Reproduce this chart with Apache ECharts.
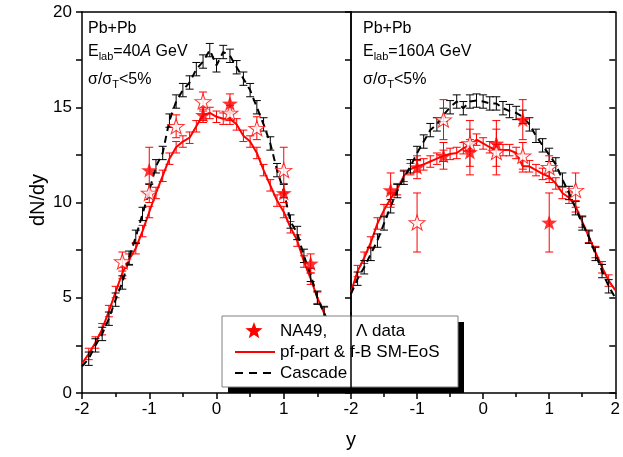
<!DOCTYPE html>
<html><head><meta charset="utf-8">
<script src="https://cdn.jsdelivr.net/npm/echarts@6/dist/echarts.min.js"></script>
<style>html,body{margin:0;padding:0;background:#fff}#c{width:623px;height:457px}</style>
</head><body><div id="c"></div>
<script>
// rapidity grid of the model calculations
const rap = [-2.0,-1.9,-1.8,-1.7,-1.6,-1.5,-1.4,-1.3,-1.2,-1.1,-1.0,-0.9,-0.8,-0.7,-0.6,-0.5,-0.4,-0.3,-0.2,-0.1,0.0,0.1,0.2,0.3,0.4,0.5,0.6,0.7,0.8,0.9,1.0,1.1,1.2,1.3,1.4,1.5,1.6,1.7,1.8,1.9,2.0];
// 40A GeV
const pf40   = [1.55,2.05,2.65,3.35,4.3,5.3,6.3,7.0,7.6,8.5,9.5,10.5,11.4,12.3,12.9,13.2,13.4,14.0,14.6,14.7,14.5,14.4,14.4,14.1,13.5,13.2,12.6,11.7,10.9,10.1,9.5,8.7,8.0,6.9,6.0,5.0,4.2,3.4,2.6,2.0,1.5];
const casc40 = [1.4,1.8,2.5,3.1,3.9,4.9,5.8,7.1,8.2,9.4,10.6,11.9,12.6,14.3,15.3,15.9,16.3,17.0,17.4,18.0,17.2,17.9,17.7,17.1,16.5,15.9,15.0,14.1,13.1,11.7,10.6,9.0,8.4,7.2,6.2,5.0,4.2,3.4,2.6,1.9,1.5];
// 160A GeV
const pf160   = [5.3,6.4,7.1,7.9,8.9,9.6,10.2,10.7,11.4,11.75,11.9,12.0,12.15,12.3,12.45,12.55,12.6,12.85,13.0,13.3,13.1,12.9,12.75,12.75,12.75,12.6,11.9,11.9,11.7,11.5,11.35,11.0,10.5,10.25,9.8,9.0,8.2,7.4,6.6,5.9,5.4];
const casc160 = [5.2,6.0,6.6,7.3,8.0,8.9,9.8,10.6,11.3,11.9,12.6,13.2,13.8,14.1,14.6,15.0,15.3,14.95,15.3,15.35,15.3,15.2,15.2,14.95,14.8,14.7,14.5,14.1,13.5,13.0,12.5,12.0,11.2,10.5,9.7,8.9,8.2,7.3,6.4,5.6,5.0];
const pfErr = 0.3, cascErr = 0.35;
// NA49 Lambda data (filled = measured, open = reflected)
const na40FilledX = [-1.0,-0.2,0.2,1.0,1.4];
const na40FilledY = [11.7,14.6,15.2,10.5,6.8];
const na40FilledE = [1.2,0.4,0.5,0.5,0.5];
const na40OpenX = [-1.4,-1.0,-0.6,-0.2,0.2,0.6,1.0];
const na40OpenY = [6.9,10.5,14.0,15.3,14.7,13.9,11.7];
const na40OpenE = [0.5,0.5,0.6,0.5,0.4,0.6,1.2];
const na160FilledX = [-1.4,-1.0,-0.6,-0.2,0.2,0.6,1.0];
const na160FilledY = [10.65,11.85,12.45,12.65,13.1,14.35,8.95];
const na160FilledE = [0.9,0.6,0.7,1.2,1.2,1.05,1.55];
const na160OpenX = [-1.0,-0.6,-0.2,0.2,0.6,1.0,1.4];
const na160OpenY = [8.95,14.35,13.1,12.65,12.45,11.85,10.65];
const na160OpenE = [1.55,1.05,1.2,1.2,0.7,0.6,0.9];
const xTicks = [-2,-1,0,1,2];
const yTicks = [0,5,10,15,20];

const FONT = 'Liberation Sans, Arial, sans-serif';
const RED = '#ff0000';
const STAR = 'path://M0,-10 L2.35,-3.24 L9.51,-3.09 L3.8,1.24 L5.88,8.09 L0,4 L-5.88,8.09 L-3.8,1.24 L-9.51,-3.09 L-2.35,-3.24 Z';

const zip = (xs, ys) => xs.map((x, i) => [x, ys[i]]);
const errData = (xs, ys, es) => xs.map((x, i) => {
  const e = Array.isArray(es) ? es[i] : es;
  return [x, ys[i] - e, ys[i] + e];
});
function errRender(cap, color) {
  return function (params, api) {
    const x = api.value(0);
    const p1 = api.coord([x, api.value(2)]);
    const p2 = api.coord([x, api.value(1)]);
    const st = {stroke: color, lineWidth: 1};
    return {type: 'group', children: [
      {type: 'line', shape: {x1: p1[0], y1: p1[1], x2: p2[0], y2: p2[1]}, style: st},
      {type: 'line', shape: {x1: p1[0] - cap, y1: p1[1], x2: p1[0] + cap, y2: p1[1]}, style: st},
      {type: 'line', shape: {x1: p2[0] - cap, y1: p2[1], x2: p2[0] + cap, y2: p2[1]}, style: st}
    ]};
  };
}
const inner = rap.slice(1, -1);
const innerOf = arr => arr.slice(1, -1);

function panelSeries(g, pf, casc, fX, fY, fE, oX, oY, oE) {
  const ax = {xAxisIndex: g * 2, yAxisIndex: g * 2};
  return [
    Object.assign({type: 'line', data: zip(rap, pf), showSymbol: false, lineStyle: {color: RED, width: 2}, z: 3, silent: true}, ax),
    Object.assign({type: 'custom', renderItem: errRender(4, RED), data: errData(inner, innerOf(pf), pfErr), z: 3, silent: true, encode: {x: 0, y: [1, 2]}}, ax),
    Object.assign({type: 'line', data: zip(rap, casc), showSymbol: false, lineStyle: {color: '#000', width: 2, type: [7, 5]}, z: 4, silent: true}, ax),
    Object.assign({type: 'custom', renderItem: errRender(4, '#000'), data: errData(inner, innerOf(casc), cascErr), z: 4, silent: true, encode: {x: 0, y: [1, 2]}}, ax),
    Object.assign({type: 'custom', renderItem: errRender(4, RED), data: errData(oX, oY, oE), z: 5, silent: true, encode: {x: 0, y: [1, 2]}}, ax),
    Object.assign({type: 'custom', renderItem: errRender(4, RED), data: errData(fX, fY, fE), z: 5, silent: true, encode: {x: 0, y: [1, 2]}}, ax),
    Object.assign({type: 'scatter', data: zip(oX, oY), symbol: STAR, symbolSize: [16, 15], itemStyle: {color: '#fff', borderColor: RED, borderWidth: 1}, z: 6, silent: true}, ax),
    Object.assign({type: 'scatter', data: zip(fX, fY), symbol: STAR, symbolSize: [16, 15], itemStyle: {color: RED}, z: 7, silent: true}, ax)
  ];
}

function xAxes(g, hideLast) {
  return [
    {gridIndex: g, type: 'value', min: -2, max: 2, interval: 1, position: 'bottom',
     axisLine: {show: true, onZero: false, lineStyle: {color: '#000', width: 1.5}},
     axisTick: {show: true, length: 6, lineStyle: {color: '#000', width: 1.5}},
     minorTick: {show: true, splitNumber: 2, length: 4, lineStyle: {color: '#000', width: 1.5}},
     splitLine: {show: false},
     axisLabel: {show: true, margin: 8, color: '#000', fontSize: 17, fontFamily: FONT,
       formatter: v => (hideLast && v === 2) ? '' : (xTicks.includes(v) ? String(v) : '')}},
    {gridIndex: g, type: 'value', min: -2, max: 2, interval: 1, position: 'top',
     axisLine: {show: true, onZero: false, lineStyle: {color: '#000', width: 1.5}},
     axisTick: {show: false}, axisLabel: {show: false}, splitLine: {show: false}}
  ];
}
function yAxes(g, labels) {
  return [
    {gridIndex: g, type: 'value', min: 0, max: 20, interval: 2.5, position: 'left',
     axisLine: {show: true, onZero: false, lineStyle: {color: '#000', width: 1.5}},
     axisTick: {show: true, length: 6, inside: false, lineStyle: {color: '#000', width: 1.5}},
     splitLine: {show: false},
     axisLabel: {show: labels, margin: 10, color: '#000', fontSize: 17, fontFamily: FONT,
       formatter: v => yTicks.includes(v) ? String(v) : ''}},
    {gridIndex: g, type: 'value', min: 0, max: 20, interval: 2.5, position: 'right',
     axisLine: {show: true, onZero: false, lineStyle: {color: '#000', width: 1.5}},
     axisTick: {show: true, length: 6, inside: true, lineStyle: {color: '#000', width: 1.5}},
     axisLabel: {show: false}, splitLine: {show: false}}
  ];
}

function starPoints(cx, cy, R, r) {
  const pts = [];
  for (let i = 0; i < 10; i++) {
    const a = -Math.PI / 2 + i * Math.PI / 5;
    const rad = i % 2 === 0 ? R : r;
    pts.push([cx + rad * Math.cos(a), cy + rad * Math.sin(a)]);
  }
  return pts;
}

const txt = (x, y, text, extra) => ({type: 'text', x, y, z: 50,
  style: Object.assign({text, fill: '#000', font: '16px ' + FONT, textVerticalAlign: 'middle'}, extra || {})});

const richStyle = {
  s: {fontSize: 11, fontFamily: FONT, verticalAlign: 'bottom', padding: [10, 0, 0, 0]},
  i: {fontSize: 16, fontFamily: FONT, fontStyle: 'italic'},
  n: {fontSize: 16, fontFamily: FONT}
};
function annot(x, energy) {
  return [
    {type: 'text', x, y: 29, z: 50, style: {text: 'Pb+Pb', fill: '#000', font: '16px ' + FONT, verticalAlign: 'middle'}},
    {type: 'text', x, y: 52, z: 50, style: {text: '{n|E}{s|lab}{n|=' + energy + '}{i|A}{n| GeV}', rich: richStyle, fill: '#000', fontSize: 16, fontFamily: FONT, verticalAlign: 'middle'}},
    {type: 'text', x, y: 80, z: 50, style: {text: '{n|σ/σ}{s|T}{n|<5%}', rich: richStyle, fill: '#000', fontSize: 16, fontFamily: FONT, verticalAlign: 'middle'}}
  ];
}

const chart = echarts.init(document.getElementById('c'), null, {renderer: 'canvas'});
chart.setOption({
  animation: false,
  backgroundColor: '#fff',
  grid: [
    {left: 82, top: 12, width: 269, height: 381},
    {left: 351, top: 12, width: 269, height: 381}
  ],
  xAxis: xAxes(0, true).concat(xAxes(1, false)),
  yAxis: yAxes(0, true).concat(yAxes(1, false)),
  series: panelSeries(0, pf40, casc40, na40FilledX, na40FilledY, na40FilledE, na40OpenX, na40OpenY, na40OpenE)
    .concat(panelSeries(1, pf160, casc160, na160FilledX, na160FilledY, na160FilledE, na160OpenX, na160OpenY, na160OpenE)),
  graphic: [
    ...annot(88, '40'),
    ...annot(363, '160'),
    {type: 'text', x: 38, y: 200, rotation: Math.PI / 2, z: 50,
     style: {text: 'dN/dy', fill: '#000', font: '20px ' + FONT, align: 'center', verticalAlign: 'middle'}},
    {type: 'text', x: 351, y: 440, z: 50,
     style: {text: 'y', fill: '#000', font: '20px ' + FONT, align: 'center', verticalAlign: 'middle'}},
    // legend box
    {type: 'rect', z: 40, shape: {x: 228, y: 322, width: 236, height: 71}, style: {fill: '#000'}},
    {type: 'rect', z: 41, shape: {x: 222, y: 316, width: 236, height: 71}, style: {fill: '#fff', stroke: '#808080', lineWidth: 1}},
    {type: 'polygon', z: 42, shape: {points: starPoints(254, 331, 9, 3.8)}, style: {fill: RED}},
    txt(280, 331, 'NA49,', {font: '17px ' + FONT}),
    txt(356, 331, 'Λ data', {font: '17px ' + FONT}),
    {type: 'line', z: 42, shape: {x1: 235, y1: 352, x2: 275, y2: 352}, style: {stroke: RED, lineWidth: 2}},
    txt(280, 352, 'pf-part & f-B SM-EoS', {font: '17px ' + FONT}),
    {type: 'line', z: 42, shape: {x1: 235, y1: 373, x2: 275, y2: 373}, style: {stroke: '#000', lineWidth: 2, lineDash: [8, 6]}},
    txt(280, 373, 'Cascade', {font: '17px ' + FONT}),
    {type: 'line', z: 60, shape: {x1: 351, y1: 312, x2: 351, y2: 393}, style: {stroke: '#000', lineWidth: 1.5}}
  ]
});
</script>
</body></html>
